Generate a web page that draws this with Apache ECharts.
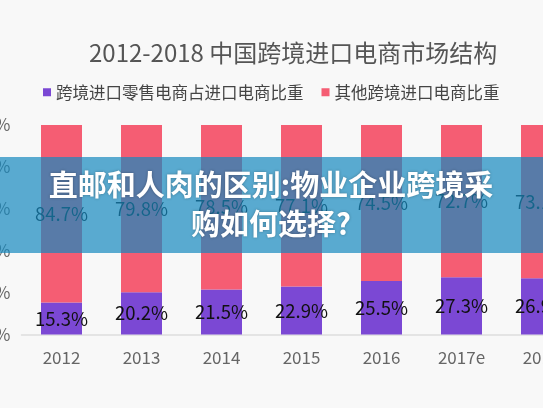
<!DOCTYPE html>
<html><head><meta charset="utf-8">
<script src="https://cdn.jsdelivr.net/npm/echarts@6/dist/echarts.min.js"></script>
<style>html,body{margin:0;padding:0;background:#f8f8f8}#c{width:543px;height:408px}</style>
</head><body><div id="c"></div>
<script>
var categories = ['2012','2013','2014','2015','2016','2017e','2018'];
var retailShare = [15.3, 20.2, 21.5, 22.9, 25.5, 27.3, 26.9];
var otherShare = [84.7, 79.8, 78.5, 77.1, 74.5, 72.7, 73.1];
var seriesNames = ['跨境进口零售电商占进口电商比重', '其他跨境进口电商比重'];
var titleText = '2012-2018 中国跨境进口电商市场结构';
var bannerLines = ['直邮和人肉的区别:物业企业跨境采', '购如何选择?'];

var font = '"Noto Sans CJK SC", "Noto Sans", sans-serif';
var chart = echarts.init(document.getElementById('c'));
var labelStyle = {show: true, position: 'inside', formatter: '{c}%', color: '#111', fontSize: 18.5, fontFamily: font};
chart.setOption({
  backgroundColor: '#f8f8f8',
  animation: false,
  title: {text: titleText, left: 84, top: 36, textStyle: {fontSize: 24, fontWeight: 'normal', color: '#555', fontFamily: font}},
  legend: {left: 38, top: 79, icon: 'rect', itemWidth: 8, itemHeight: 8, itemGap: 18, itemTextGap: 6,
    textStyle: {fontSize: 16.5, color: '#444', fontFamily: font}, data: seriesNames},
  grid: {left: 21.5, top: 125, width: 560, height: 209.5, containLabel: false, outerBoundsMode: 'none'},
  xAxis: {type: 'category', data: categories, axisTick: {show: false},
    axisLine: {lineStyle: {color: '#ddd', width: 1.5}},
    axisLabel: {color: '#666', fontSize: 17, margin: 15, fontFamily: font}},
  yAxis: {type: 'value', min: 0, max: 100, interval: 20, splitLine: {show: false},
    axisLine: {show: false}, axisTick: {show: false},
    axisLabel: {formatter: '{value}%', color: '#666', fontSize: 17, margin: 11, fontFamily: font}},
  series: [
    {name: seriesNames[0], type: 'bar', stack: 'a', barWidth: 41, data: retailShare,
      itemStyle: {color: '#7b48d4'}, label: labelStyle},
    {name: seriesNames[1], type: 'bar', stack: 'a', barWidth: 41, data: otherShare,
      itemStyle: {color: '#f55d73'}, label: labelStyle}
  ],
  graphic: [
    {type: 'rect', z: 100, shape: {x: 0, y: 157, width: 543, height: 96}, style: {fill: 'rgba(22,137,191,0.7)'}},
    {type: 'text', z: 101, style: {text: bannerLines[0], x: 271, y: 185, align: 'center', verticalAlign: 'middle',
      fill: '#fff', font: 'bold 29px ' + font, textShadowBlur: 3, textShadowColor: 'rgba(0,0,0,0.3)'}},
    {type: 'text', z: 101, style: {text: bannerLines[1], x: 271, y: 224, align: 'center', verticalAlign: 'middle',
      fill: '#fff', font: 'bold 29px ' + font, textShadowBlur: 3, textShadowColor: 'rgba(0,0,0,0.3)'}}
  ]
});
</script></body></html>
